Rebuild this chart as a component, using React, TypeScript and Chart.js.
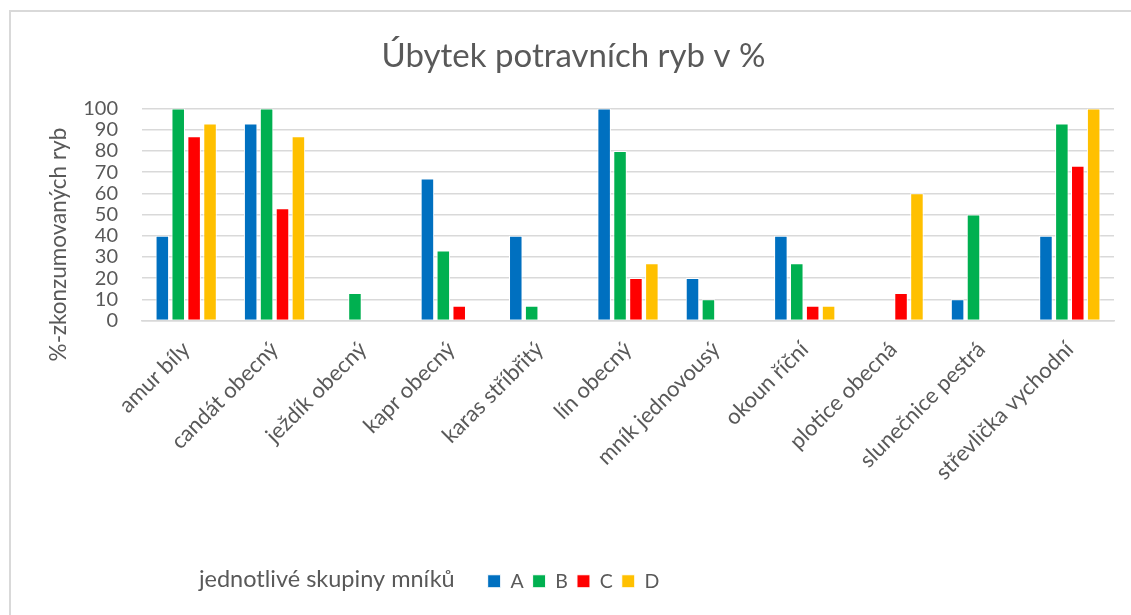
import React, { useEffect, useRef } from 'react';
import { Chart, registerables } from 'chart.js';

Chart.register(...registerables);

const titleText = 'Úbytek potravních ryb v %';
const yTitle = '%-zkonzumovaných ryb';
const xTitle = 'jednotlivé skupiny mníků';

const categories = [
  'amur bíly',
  'candát obecný',
  'ježdík obecný',
  'kapr obecný',
  'karas stříbřitý',
  'lín obecný',
  'mník jednovousý',
  'okoun říční',
  'plotice obecná',
  'slunečnice pestrá',
  'střevlička vychodní',
];

const seriesNames = ['A', 'B', 'C', 'D'];
const seriesA = [40, 93, 0, 67, 40, 100, 20, 40, 0, 10, 40];
const seriesB = [100, 100, 13, 33, 7, 80, 10, 27, 0, 50, 93];
const seriesC = [87, 53, 0, 7, 0, 20, 0, 7, 13, 0, 73];
const seriesD = [93, 87, 0, 0, 0, 27, 0, 7, 60, 0, 100];
const seriesColors = ['#0070C0', '#00B050', '#FF0000', '#FFC000'];

const yMin = 0;
const yMax = 100;
const yStep = 10;

const FONT = 'Lato, "Open Sans", sans-serif';
const TEXT = '#595959';
const GRID = '#d9d9d9';

const textPlugin = {
  id: 'extraTexts',
  afterDraw(chart: any) {
    const ctx = chart.ctx;
    const area = chart.chartArea;
    // y-axis title
    ctx.save();
    ctx.font = `22.5px ${FONT}`;
    ctx.fillStyle = TEXT;
    ctx.textAlign = 'center';
    ctx.textBaseline = 'middle';
    ctx.translate(48, (area.top + area.bottom) / 2 + 30);
    ctx.rotate(-Math.PI / 2);
    ctx.fillText(yTitle, 0, 0);
    ctx.restore();
    // x-axis title beside the legend
    const lg: any = chart.legend;
    if (!lg || !lg.legendHitBoxes || !lg.legendHitBoxes.length) return;
    const hb = lg.legendHitBoxes[0];
    ctx.save();
    ctx.font = `23.5px ${FONT}`;
    ctx.fillStyle = TEXT;
    ctx.textAlign = 'right';
    ctx.textBaseline = 'middle';
    ctx.fillText(xTitle, hb.left - 33, hb.top + hb.height / 2 - 2);
    ctx.restore();
  },
};

export default function App() {
  const ref = useRef<HTMLCanvasElement | null>(null);

  useEffect(() => {
    if (!ref.current) return;
    const all = [seriesA, seriesB, seriesC, seriesD];
    const chart = new Chart(ref.current, {
      type: 'bar',
      data: {
        labels: categories,
        datasets: all.map((d, i) => ({
          label: seriesNames[i],
          data: d,
          backgroundColor: seriesColors[i],
          borderColor: '#ffffff',
          borderWidth: 1,
          barPercentage: 0.85,
          categoryPercentage: 0.72,
        })),
      },
      options: {
        responsive: false,
        animation: false,
        layout: { padding: { left: 22, right: 17, top: 0, bottom: 14 } },
        plugins: {
          title: {
            display: true,
            text: titleText,
            color: TEXT,
            font: { family: FONT, size: 33, weight: 'normal' },
            padding: { top: 25, bottom: 32 },
          },
          legend: {
            position: 'bottom',
            labels: {
              color: TEXT,
              boxWidth: 13,
              boxHeight: 13,
              padding: 9,
              font: { family: FONT, size: 19.5 },
            },
          },
          tooltip: { enabled: false },
        },
        scales: {
          x: {
            grid: { display: false, drawTicks: false },
            border: { display: true, color: GRID, width: 1.5 },
            ticks: {
              color: TEXT,
              font: { family: FONT, size: 22 },
              minRotation: 45,
              maxRotation: 45,
              padding: 16,
              autoSkip: false,
            },
            afterFit(scale: any) {
              scale.height = 242;
            },
          },
          y: {
            min: yMin,
            max: yMax,
            grid: { color: GRID, lineWidth: 1.5, drawTicks: false },
            border: { display: false },
            ticks: {
              stepSize: yStep,
              autoSkip: false,
              color: TEXT,
              font: { family: FONT, size: 20 },
              padding: 24,
            },
            afterFit(scale: any) {
              scale.width = 109;
            },
          },
        },
      },
      plugins: [textPlugin],
    });
    return () => chart.destroy();
  }, []);

  return (
    <div
      style={{
        position: 'absolute',
        left: 9,
        top: 10,
        width: 1122,
        height: 605,
        boxSizing: 'border-box',
        borderTop: `2px solid ${GRID}`,
        borderLeft: `2px solid ${GRID}`,
        background: '#fff',
      }}
    >
      <canvas ref={ref} width={1120} height={603} style={{ display: 'block', width: 1120, height: 603 }} />
    </div>
  );
}
